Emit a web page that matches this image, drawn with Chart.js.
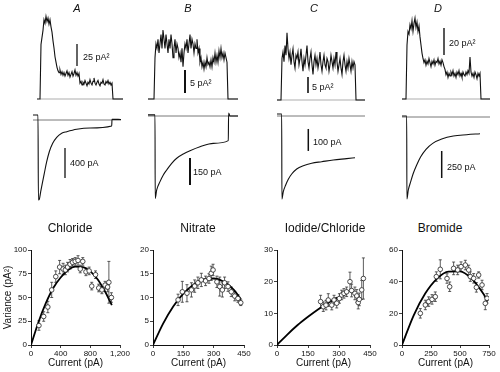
<!DOCTYPE html>
<html lang="en">
<head>
<meta charset="UTF-8" />
<title>Current-variance analysis</title>
<script src="https://cdn.jsdelivr.net/npm/chart.js"></script>
<style>
  body { margin: 0; background: #fff; }
  #fig { position: relative; width: 500px; height: 372px; overflow: hidden; color: #111;
         font-family: 'Liberation Sans', Arial, sans-serif; }
  #fig canvas { position: absolute; }
  .lbl { position: absolute; font-size: 9px; line-height: 1; white-space: nowrap; transform: translateY(-50%); }
  .panel { position: absolute; font-size: 11px; font-style: italic; transform: translate(-50%, -50%); }
  .ttl { position: absolute; font-size: 12px; white-space: nowrap; transform: translate(-50%, -50%);
         font-family: 'Liberation Sans Narrow', 'Liberation Sans', Arial, sans-serif; }
</style>
</head>
<body>
<div id="fig">
  <div class="panel" style="left:77px;top:8px">A</div>
  <div class="panel" style="left:188px;top:8px">B</div>
  <div class="panel" style="left:314px;top:8px">C</div>
  <div class="panel" style="left:438px;top:8px">D</div>

  <div class="lbl" style="left:83px;top:57px">25 pA²</div>
  <div class="lbl" style="left:190px;top:83px">5 pA²</div>
  <div class="lbl" style="left:312px;top:87px">5 pA²</div>
  <div class="lbl" style="left:449px;top:43px">20 pA²</div>

  <div class="lbl" style="left:70px;top:163px">400 pA</div>
  <div class="lbl" style="left:193px;top:172px">150 pA</div>
  <div class="lbl" style="left:313px;top:142px">100 pA</div>
  <div class="lbl" style="left:447px;top:167px">250 pA</div>

  <div class="ttl" style="left:70px;top:228px">Chloride</div>
  <div class="ttl" style="left:198px;top:228px">Nitrate</div>
  <div class="ttl" style="left:325px;top:228px">Iodide/Chloride</div>
  <div class="ttl" style="left:440px;top:228px">Bromide</div>
</div>

<script>
  // ---- variance traces (pA^2), one sample per step, baseline zeros included ----
  const varA = [0,0,0,0,
    62,70,78,90,86,94,88,92,85,90, 82,76,66,58,48,42,36,32,30,33,
    28,31,27,30,26,29,32,27,30,25, 28,31,26,29,33,27,30,26,29,
    18,20,16,19,17,21,18,15,19,17, 22,18,16,20,24,18,16,19,21,17,
    15,19,18,22,17,16,20,18,21,17, 19,16,18,
    0,0,0,0,0,0,0,0,0,0,0];
  const varB = [0,0,0,0,0,0,0,
    9,12,11,13,10,12,14,11,15,13, 11,14,12,10,13,11,14,12,9,11,
    13,10,12,11,9,10,8,11,7,10, 12,11,13,10,12,14,11,13,12,10,
    12,11,13,10,11,8,9,7,8,6.5, 8,7,9,7.5,8,7,8.5,7,9,8,
    10,8,9.5,8,10.5,9,11,9,10,8.5, 10,9,8,
    0,0,0,0,0,0,0,0,0,0,0];
  const varC = [0,0,0,0,0,
    13,15,12,17,14,21,16,13,15,11, 14,16,12,10,14,13,15,11,13,16,
    12,9,13,11,14,17,12,10,13,15, 11,8,12,14,11,13,10,12,15,11,
    9,12,14,11,10,13,12,9,11,14, 12,10,13,11,15,12,9,11,13,10,
    8,12,14,11,9,12,10,13,11,9, 12,10,12,11,
    0,0,0,0,0,0,0,0,0,0];
  const varD = [0,0,0,0,0,
    40,50,48,55,52,58,50,56,60,53, 57,50,54,46,40,34,30,27,29,25,
    28,26,30,27,24,28,26,29,25,28, 27,30,26,28,25,29,27,24,22,18,
    20,16,19,17,20,18,21,17,19,16, 20,18,21,17,19,16,20,18,17,20,
    18,21,19,31,20,17,19,16,20,18, 15,19,17,19,
    0,0,0,0,0,0,0,0,0,0];

  // ---- current traces: time from pulse onset (ms) and current (pA) ----
  const tA = [-5, 0, 0.4, 1.3, 2.7, 4.3, 6.3, 8.7, 11.3, 14.7, 18.7, 23.7, 28.7, 38.7, 52, 73.7, 74, 83];
  const iA = [67, 67, -1067, -1057, -956, -844, -711, -556, -423, -311, -231, -177, -156, -124, -107, -80, 9, 7];
  const tB = [-7, 0, 0.2, 1.7, 5, 8.3, 11.7, 16.7, 21.7, 28.3, 35, 45, 58.3, 73.3, 73.6, 75, 83];
  const iB = [6, 6, -458, -411, -365, -328, -300, -263, -235, -211, -193, -171, -152, -137, 17, 0, 0];
  const tC = [-4.7, 0, 0.2, 1.6, 4, 6.6, 10, 15, 21.6, 30, 40, 51.6, 65, 73.3];
  const iC = [9, 9, -378, -344, -314, -288, -264, -241, -226, -215, -208, -200, -194, -190];
  const tD = [-4.7, 0, 0.2, 1.6, 4, 6.6, 10, 14, 19.3, 26, 35, 46.6, 60, 73.3];
  const iD = [9, 9, -759, -676, -599, -521, -444, -368, -299, -244, -204, -176, -164, -155];

  // ---- mean current vs variance (I pA, V pA^2, E = error) and parabola fits ----
  const clI = [107,171,227,279,334,386,433,463,493,527,561,596,634,664,698,741,784,819,870,913,956,999,1033,1050,1084];
  const clV = [20.5,30,40,58,72,82,80,79,82,85,87,88,89,80,88,77,78,62,74,60,58,63,61,66,50];
  const clE = [5,5,6,8,6,7,6,5,5,5,4,4,5,4,4,4,4,4,4,4,4,4,5,22,5];
  const clFitI = [0,100,200,300,400,500,600,700,800,900,1000,1090];
  const clFitV = [0,24,44,60,71,79,82.5,82,77.5,69,56,42];

  const noI = [124,145,168,190,206,222,239,260,277,288,297,316,330,343,354,371,387,404,420,434];
  const noV = [9.5,11.2,10.9,11.6,12.4,13.1,13.7,13.5,14,15.1,15.8,13.3,12.3,11.6,13.1,12.3,11.2,10.3,9.8,8.9];
  const noE = [1.2,2.2,1.8,1.5,1.3,1.2,1.4,1,1,1.5,1.2,1.2,2,1.5,1.2,1,1,1,0.8,0.6];
  const noFitI = [0,50,100,150,200,250,300,350,400,435];
  const noFitV = [0,4.5,8.1,10.8,12.7,13.8,14,13.3,11.6,9.6];

  const ioI = [211,224,237,248,265,276,289,302,313,324,337,353,361,377,386,393,398,410,418];
  const ioV = [13.7,12.1,12.6,14.2,12.6,14.2,13.2,14.7,15.8,16.3,16.8,20,17.2,16.3,15.5,13.4,14.4,17.4,21];
  const ioE = [2,1.5,1.5,2,1.5,1.5,1.5,1.5,1.5,1.5,1.5,3,2,2,2,2,2,3,6.5];
  const ioFitI = [0,50,100,150,200,250,290];
  const ioFitV = [0,3.3,6.3,8.9,11.3,13.4,15];

  const brI = [158,201,230,259,287,296,330,388,411,445,480,509,546,575,589,618,641,661,690,718,733];
  const brV = [20,25.3,27.4,28.8,30.5,43.2,47.8,42,36.8,48.4,47.4,49.5,50.5,47.4,43.2,42.1,36.4,44.2,37.9,26.3,29.5];
  const brE = [3,3,3,3,3,3,6,3,3,4,3,3,3,3,3,3,3,2,3,4,3];
  const brFitI = [0,100,200,300,400,500,600,700,740];
  const brFitV = [0,18.6,32.5,41.8,46.4,46.5,41.9,32.5,27.6];

  // ---- drawing ----
  Chart.defaults.font.family = "'Liberation Sans Narrow', 'Liberation Sans', Arial, sans-serif";
  Chart.defaults.color = '#111';

  const fig = document.getElementById('fig');
  const PAD = 4;

  function addCanvas(left, top, width, height) {
    const c = document.createElement('canvas');
    c.width = width; c.height = height;
    c.style.left = left + 'px'; c.style.top = top + 'px';
    fig.insertBefore(c, fig.firstChild);
    return c;
  }

  // axis range from baseline pixel and units per pixel
  function span(base, perPx, top, bottom) {
    return [-(bottom - base) * perPx, (base - top) * perPx];
  }

  function line(points, width, color, smooth) {
    return {
      data: points, borderColor: color || '#111', borderWidth: width, pointRadius: 0, fill: false,
      tension: 0, cubicInterpolationMode: smooth ? 'monotone' : 'default'
    };
  }

  const seq = arr => arr.map((v, i) => ({ x: i, y: v }));
  const pairs = (xs, ys) => xs.map((x, i) => ({ x: x, y: ys[i] }));
  const bar = (x, from, size) => [{ x: x, y: from }, { x: x, y: from + size }];

  function traceChart(area, xr, yr, datasets) {
    const c = addCanvas(area[0] - PAD, area[1] - PAD, area[2] + 2 * PAD, area[3] + 2 * PAD);
    new Chart(c, {
      type: 'line',
      data: { datasets },
      options: {
        responsive: false, animation: false, events: [],
        layout: { padding: PAD },
        scales: {
          x: { type: 'linear', display: false, min: xr[0], max: xr[1] },
          y: { type: 'linear', display: false, min: yr[0], max: yr[1] }
        },
        plugins: { legend: { display: false }, tooltip: { enabled: false } }
      }
    });
  }

  // variance traces
  traceChart([37, 3, 86, 102], [0, 86], span(99, 1 / 0.88, 3, 105), [
    line(seq(varA), 1.1), line([{ x: 3, y: 0 }, { x: 86, y: 0 }], 0.6, '#777'), line(bar(40, 37.5, 25), 1.3)
  ]);
  traceChart([148, 3, 90, 102], [0, 90], span(99, 1 / 4.6, 3, 105), [
    line(seq(varB), 1.1), line([{ x: 0, y: 0 }, { x: 90, y: 0 }], 0.6, '#777'), line(bar(37, 1.3, 5), 2)
  ]);
  traceChart([277, 3, 88, 102], [0, 88], span(100, 1 / 3.2, 3, 105), [
    line(seq(varC), 1.1), line([{ x: 0, y: 0 }, { x: 88, y: 0 }], 0.6, '#777'), line(bar(31, 2.2, 5), 1.6)
  ]);
  traceChart([402, 3, 88, 102], [0, 88], span(99, 1 / 1.35, 3, 105), [
    line(seq(varD), 1.1), line([{ x: 0, y: 0 }, { x: 88, y: 0 }], 0.6, '#777'), line(bar(42, 32.6, 20), 1.4)
  ]);

  // current traces
  traceChart([33, 108, 88, 97], [-5, 83], span(120, 13.33, 108, 205), [
    line(pairs(tA, iA), 1.1, '#111', true), line([{ x: -5, y: 0 }, { x: 83, y: 0 }], 0.8, '#555'), line(bar(27, -773, 400), 1.3)
  ]);
  traceChart([148, 108, 90, 97], [-7, 83], span(116, 5.56, 108, 205), [
    line(pairs(tB, iB), 1.1, '#111', true), line([{ x: -7, y: 0 }, { x: 83, y: 0 }], 0.8, '#555'), line(bar(35, -383, 150), 2)
  ]);
  traceChart([277, 108, 88, 97], [-4.7, 83.3], span(116, 4.55, 108, 205), [
    line(pairs(tC, iC), 1.1, '#111', true), line([{ x: -4.7, y: 0 }, { x: 83.3, y: 0 }], 0.8, '#555'), line(bar(26.6, -159, 100), 1.5)
  ]);
  traceChart([402, 108, 88, 97], [-4.7, 83.3], span(117, 9.26, 108, 205), [
    line(pairs(tD, iD), 1.1, '#111', true), line([{ x: -4.7, y: 0 }, { x: 83.3, y: 0 }], 0.8, '#555'), line(bar(35, -565, 250), 1.5)
  ]);

  // error bars for the first dataset, through the chart scales
  const errorBars = {
    id: 'errorBars',
    beforeDatasetsDraw(chart) {
      const ds = chart.data.datasets[0];
      const { ctx } = chart;
      const x = chart.scales.x, y = chart.scales.y;
      ctx.save();
      ctx.strokeStyle = '#333';
      ctx.lineWidth = 0.8;
      ds.data.forEach((p, i) => {
        const e = ds.errors[i];
        const px = x.getPixelForValue(p.x);
        const y1 = y.getPixelForValue(p.y - e), y2 = y.getPixelForValue(p.y + e);
        ctx.beginPath();
        ctx.moveTo(px, y1); ctx.lineTo(px, y2);
        ctx.moveTo(px - 1.5, y1); ctx.lineTo(px + 1.5, y1);
        ctx.moveTo(px - 1.5, y2); ctx.lineTo(px + 1.5, y2);
        ctx.stroke();
      });
      ctx.restore();
    }
  };

  function mvChart(o) {
    const [l, t, w, h] = o.area;
    const yAx = o.yTitle ? 31 : 20, xAx = 27, padT = 8, padR = 14;
    const c = addCanvas(l - yAx, t - padT, yAx + w + padR, padT + h + xAx);
    const grid = { display: true, drawOnChartArea: false, tickLength: 3, color: '#111', lineWidth: 0.8 };
    const border = { display: true, color: '#111', width: 1 };
    const ticks = { autoSkip: false, maxRotation: 0, padding: 1, color: '#111', font: { size: 8 } };
    new Chart(c, {
      type: 'scatter',
      data: {
        datasets: [
          {
            data: pairs(o.I, o.V), errors: o.E, showLine: false,
            pointRadius: 2.3, pointBorderWidth: 0.8, pointBorderColor: '#222', pointBackgroundColor: '#fff'
          },
          {
            type: 'line', data: pairs(o.fitI, o.fitV), borderColor: '#000', borderWidth: 1.8,
            pointRadius: 0, cubicInterpolationMode: 'monotone'
          }
        ]
      },
      options: {
        responsive: false, animation: false, events: [],
        layout: { padding: { top: padT, right: padR, left: 0, bottom: 0 } },
        scales: {
          x: {
            type: 'linear', min: 0, max: o.xMax, grid, border,
            ticks: Object.assign({ stepSize: o.xStep }, ticks),
            title: { display: true, text: 'Current (pA)', color: '#111', font: { size: 10 }, padding: { top: 0, bottom: 3 } },
            afterFit: s => { s.height = xAx; s.paddingLeft = 0; s.paddingRight = 0; }
          },
          y: {
            type: 'linear', min: 0, max: o.yMax, grid, border,
            ticks: Object.assign({ stepSize: o.yStep }, ticks),
            title: { display: !!o.yTitle, text: 'Variance (pA²)', color: '#111', font: { size: 10 }, padding: { top: 2, bottom: 0 } },
            afterFit: s => { s.width = yAx; s.paddingTop = 0; s.paddingBottom = 0; }
          }
        },
        plugins: { legend: { display: false }, tooltip: { enabled: false } }
      },
      plugins: [errorBars]
    });
  }

  mvChart({ area: [31, 250, 89, 95], xMax: 1200, xStep: 400, yMax: 100, yStep: 25, yTitle: true,
            I: clI, V: clV, E: clE, fitI: clFitI, fitV: clFitV });
  mvChart({ area: [153, 250, 91, 95], xMax: 450, xStep: 150, yMax: 20, yStep: 5,
            I: noI, V: noV, E: noE, fitI: noFitI, fitV: noFitV });
  mvChart({ area: [277, 250, 93, 95], xMax: 450, xStep: 150, yMax: 30, yStep: 10,
            I: ioI, V: ioV, E: ioE, fitI: ioFitI, fitV: ioFitV });
  mvChart({ area: [402, 250, 87, 95], xMax: 750, xStep: 250, yMax: 60, yStep: 20,
            I: brI, V: brV, E: brE, fitI: brFitI, fitV: brFitV });
</script>
</body>
</html>
